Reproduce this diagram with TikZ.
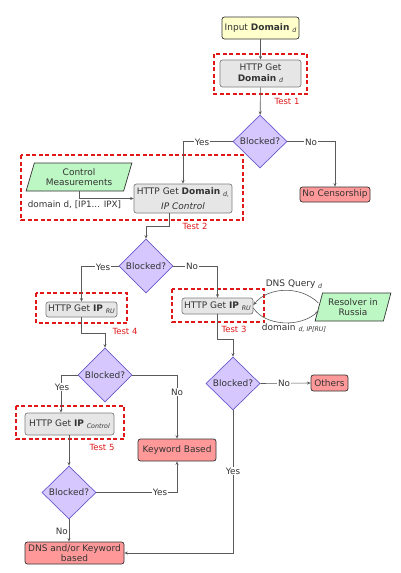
\documentclass[tikz,border=0pt]{standalone}
\usepackage{fontspec}
\setmainfont{DejaVu Sans}
\usetikzlibrary{shapes.geometric,arrows.meta}
\definecolor{txt}{HTML}{333333}
\definecolor{yelfill}{HTML}{FFFFCC}
\definecolor{grayfill}{HTML}{E6E6E6}
\definecolor{grayline}{HTML}{7F7F7F}
\definecolor{greenfill}{HTML}{BDF7C4}
\definecolor{redfill}{HTML}{FF9999}
\definecolor{diafill}{HTML}{D6C8FF}
\definecolor{dialine}{HTML}{6A5ACD}
\definecolor{conn}{HTML}{5A5A5A}
\definecolor{testred}{HTML}{E01818}
\newcommand{\lowsub}[1]{\raisebox{-0.35ex}{\fontsize{6.3}{7}\selectfont\itshape #1}}
\begin{document}
\begin{tikzpicture}[x=1pt,y=-1pt,
  font=\fontsize{9}{10.5}\selectfont, text=txt,
  basebox/.style={rectangle, rounded corners=2.5pt, line width=0.7pt, align=center, inner sep=1pt},
  inbox/.style={basebox, draw=txt, fill=yelfill},
  getbox/.style={basebox, draw=grayline, fill=grayfill},
  endbox/.style={basebox, draw=txt, fill=redfill},
  datashape/.style={trapezium, trapezium left angle=72, trapezium right angle=108, trapezium stretches=true,
     draw=txt, fill=greenfill, line width=0.7pt, align=center, inner sep=1pt},
  decision/.style={diamond, draw=dialine, fill=diafill, line width=0.7pt, inner sep=0pt,
     minimum width=54pt, minimum height=53pt},
  arr/.style={draw=conn, line width=0.6pt, -{Stealth[length=3.5pt,width=3pt]}},
  lbl/.style={fill=white, inner sep=1pt, font=\fontsize{8.8}{10}\selectfont},
  testbox/.style={draw=testred, line width=1.3pt, dash pattern=on 4pt off 2.5pt},
  testlbl/.style={text=testred, font=\fontsize{8.5}{10}\selectfont, inner sep=0pt}
]
\useasboundingbox (0,0) rectangle (400,573);
\fill[white] (0,0) rectangle (400,573);

% test frames
\draw[testbox] (214,54) rectangle (307,94);
\draw[testbox] (21,155) rectangle (243,220);
\draw[testbox] (172,289) rectangle (264,322);
\draw[testbox] (36,293) rectangle (127,323);
\draw[testbox] (16,406) rectangle (124,439);
\node[testlbl] (t1) at (287,101) {Test 1};
\node[testlbl] (t2) at (195,226) {Test 2};
\node[testlbl] (t3) at (234,329) {Test 3};
\node[testlbl] (t4) at (125,331) {Test 4};
\node[testlbl] (t5) at (102,447) {Test 5};

% nodes
\node[inbox, minimum width=77pt, minimum height=22pt] (inp) at (260.5,28) {Input \textbf{Domain} \lowsub{d}};
\node[getbox, minimum width=81pt, minimum height=27pt] (h1) at (260.5,73.5) {HTTP Get\\\textbf{Domain} \lowsub{d}};
\node[decision] (d1) at (260,141.5) {Blocked?};
\node[endbox, minimum width=70pt, minimum height=15pt] (nc) at (335,194.5) {No Censorship};
\node[datashape, minimum width=106pt, minimum height=28pt] (cm) at (79,177) {Control\\Measurements};
\node[getbox, minimum width=98pt, minimum height=29pt, font=\fontsize{9}{15}\selectfont] (h2) at (183,198.5) {HTTP Get \textbf{Domain} \lowsub{d,}\\\textit{IP Control}};
\node[decision, minimum height=54pt] (d2) at (146,266) {Blocked?};
\node[getbox, minimum width=71pt, minimum height=16pt] (h3) at (217.5,306) {HTTP Get \textbf{IP} \lowsub{RU}};
\node[datashape, minimum width=76pt, minimum height=28pt] (rr) at (353,307) {Resolver in\\Russia};
\node[decision] (d3) at (233,383.5) {Blocked?};
\node[endbox, minimum width=37pt, minimum height=16pt] (oth) at (329.5,383) {Others};
\node[getbox, minimum width=71pt, minimum height=15pt] (h4) at (81.5,309.5) {HTTP Get \textbf{IP} \lowsub{RU}};
\node[decision, minimum height=54pt] (d4) at (105,375) {Blocked?};
\node[getbox, minimum width=89pt, minimum height=22pt] (h5) at (69.5,424) {HTTP Get \textbf{IP} \lowsub{Control}};
\node[endbox, minimum width=78pt, minimum height=22pt] (kw) at (177,450) {Keyword Based};
\node[decision] (d5) at (69,492.5) {Blocked?};
\node[endbox, minimum width=99pt, minimum height=22pt] (dns) at (74.5,553) {DNS and/or Keyword\\based};

% connectors
\draw[arr] (inp) -- (h1);
\draw[arr] (h1) -- (d1);
\draw[arr] (d1.west) -| (h2.north);
\node[lbl] (y1) at (202,142) {Yes};
\draw[arr] (d1.east) -| (nc.north);
\node[lbl] (n1) at (311,142) {No};

\draw[arr] (cm.south) |- (h2.west);
\node[inner sep=0pt, font=\fontsize{8.8}{10}\selectfont] (cml) at (74.5,205) {domain d, [IP1... IPX]};

\draw[arr] ([xshift=-14pt]h2.south) -- ++(0,13) -| (d2.north);
\draw[arr] (d2.west) -| (h4.north);
\node[lbl] (y2) at (103,267) {Yes};
\draw[arr] (d2.east) -| (h3.north);
\node[lbl] (n2) at (192,266) {No};

\coordinate (q1) at (300,285);
\coordinate (q2) at (268,287);
\draw[arr] ([yshift=4pt]rr.west) .. controls (q1) and (q2) .. ([yshift=1pt]h3.east);
\node[inner sep=0pt] (dq) at (294,284) {DNS Query \lowsub{d}};
\coordinate (q3) at (265,326);
\coordinate (q4) at (300,328);
\draw[arr] ([yshift=-2pt]h3.east) .. controls (q3) and (q4) .. ([yshift=-4pt]rr.west);
\node[inner sep=0pt] (dl) at (294,328) {domain \lowsub{d, IP[RU]}};

\draw[arr] (h3.south) -- ++(0,25) -| (d3.north);
\draw[arr] (d3.east) -- (oth.west);
\node[lbl] (n3) at (284,383) {No};
\draw[arr] (d3.south) |- (dns.east);
\node[lbl] (y3) at (233,471) {Yes};

\draw[arr] (h4.south) -- ++(0,16) -| (d4.north);
\draw[arr] (d4.west) -| ([xshift=-8.5pt]h5.north);
\node[lbl] (y4) at (62,387) {Yes};
\draw[arr] (d4.east) -| (kw.north);
\node[lbl] (n4) at (177,392) {No};

\draw[arr] (h5.south -| d5.north) -- (d5.north);
\draw[arr] (d5.east) -| (kw.south);
\node[lbl] (y5) at (160,492) {Yes};
\draw[arr] (d5.south) -- (d5.south |- dns.north);
\node[inner sep=0pt, anchor=east, font=\fontsize{8.8}{10}\selectfont] (n5) at (68,531) {No};
\end{tikzpicture}
\end{document}
